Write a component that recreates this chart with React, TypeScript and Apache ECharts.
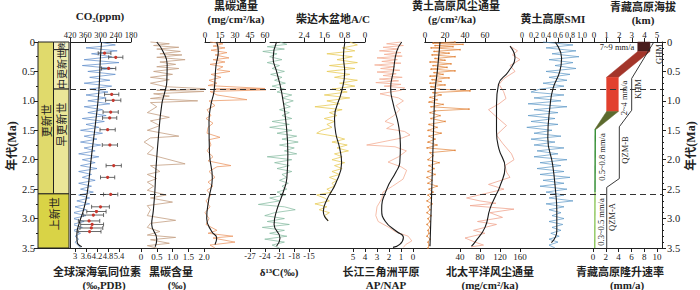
import React, { useEffect, useRef } from 'react';
import * as echarts from 'echarts';

// ---------------- DATA ----------------
// Geological column
const GEO_NAMES = ['更新世', '晚', '中更新世', '早更新世', '上新世'];
const GEO_TOP = [0, 0, 0.13, 0.8, 2.58];
const GEO_BASE = [2.58, 0.13, 0.8, 2.58, 3.5];
const GEO_LABEL_AGE = [1.34, 0.065, 0.46, 1.4, 2.92];
const GEO_X0 = [0, 1, 1, 1, 0];
const GEO_X1 = [1, 2, 2, 2, 2];
const BOUNDARIES = [0.8, 2.58];

// Global deep-sea δ18O (‰, PDB) [value, age Ma]
const D18O: [number, number][] = [
  [4.3, 0], [5.2, 0.05], [3.6, 0.1], [5.3, 0.15], [3.9, 0.2], [5.0, 0.25], [3.5, 0.3], [5.4, 0.35], [3.4, 0.4], [5.1, 0.45],
  [3.7, 0.5], [5.2, 0.55], [3.8, 0.6], [4.9, 0.65], [3.5, 0.7], [5.0, 0.75], [3.8, 0.8], [4.8, 0.85], [3.6, 0.9], [4.7, 0.95],
  [3.7, 1.0], [4.9, 1.05], [3.5, 1.1], [4.5, 1.15], [3.7, 1.2], [4.7, 1.25], [3.4, 1.3], [4.6, 1.35], [3.6, 1.4], [4.3, 1.45],
  [3.3, 1.5], [4.5, 1.55], [3.5, 1.6], [4.2, 1.65], [3.3, 1.7], [4.4, 1.75], [3.5, 1.8], [4.1, 1.85], [3.2, 1.9], [4.3, 1.95],
  [3.4, 2.0], [4.1, 2.05], [3.3, 2.1], [4.2, 2.15], [3.2, 2.2], [3.9, 2.25], [3.4, 2.3], [4.1, 2.35], [3.2, 2.4], [3.9, 2.45],
  [3.3, 2.5], [4.0, 2.55], [3.2, 2.6], [3.8, 2.65], [3.1, 2.7], [3.8, 2.75], [3.0, 2.8], [3.6, 2.85], [2.9, 2.9], [3.6, 2.95],
  [2.9, 3.0], [3.5, 3.05], [2.85, 3.1], [3.4, 3.15], [2.9, 3.2], [3.3, 3.25], [3.0, 3.3], [3.2, 3.35], [3.0, 3.4], [3.15, 3.45], [3.3, 3.5],
];
const D18O_SMOOTH: [number, number][] = [
  [4.45, 0], [4.38, 0.3], [4.3, 0.84], [4.13, 1.35], [3.91, 1.91], [3.67, 2.56], [3.45, 2.87], [3.27, 3.04], [3.1, 3.27], [3.12, 3.4], [3.37, 3.48],
];
// CO2 (ppm) [value, age, error]
const CO2: [number, number, number][] = [
  [284, 0.19, 25], [240, 0.26, 28], [268, 0.45, 28], [256, 0.89, 28], [250, 0.99, 30], [260, 1.19, 30], [264, 1.29, 28],
  [272, 1.49, 30], [263, 1.75, 30], [248, 2.1, 30], [272, 2.3, 28], [260, 2.59, 28], [300, 2.8, 35], [316, 2.88, 38],
  [328, 2.94, 40], [345, 3.04, 42], [333, 3.1, 45], [336, 3.16, 45], [343, 3.22, 45],
];
// Black carbon content (‰)
const BC: [number, number][] = [
  [0.3, 0.0], [0.9, 0.03], [0.4, 0.06], [1.2, 0.09], [0.5, 0.12], [1.25, 0.16], [0.6, 0.2], [1.3, 0.22], [0.5, 0.26], [1.4, 0.3],
  [0.6, 0.34], [1.1, 0.38], [0.5, 0.42], [1.2, 0.45], [0.4, 0.5], [1.0, 0.55], [0.3, 0.6], [0.9, 0.64], [0.3, 0.7], [0.8, 0.76],
  [2.3, 0.8], [0.5, 0.82], [2.0, 0.84], [0.4, 0.88], [0.9, 0.92], [0.3, 0.96], [1.8, 1.0], [0.3, 1.03], [0.5, 1.1], [0.2, 1.2],
  [0.9, 1.28], [0.3, 1.34], [0.6, 1.42], [0.2, 1.5], [1.2, 1.6], [0.3, 1.63], [0.1, 1.7], [0.4, 1.8], [0.2, 1.9], [1.4, 2.07],
  [0.3, 2.1], [0.6, 2.2], [0.2, 2.25], [0.5, 2.32], [0.2, 2.38], [0.4, 2.45], [0.2, 2.52], [0.8, 2.6], [0.3, 2.65], [1.0, 2.72],
  [0.2, 2.78], [0.3, 2.85], [0.2, 2.95], [1.1, 3.03], [0.3, 3.08], [0.2, 3.15], [0.6, 3.22], [0.2, 3.28], [1.1, 3.32], [0.3, 3.36],
  [0.9, 3.42], [0.2, 3.46], [0.5, 3.5],
];
const BC_SMOOTH: [number, number][] = [
  [0.5, 0], [0.7, 0.16], [0.83, 0.38], [0.82, 0.67], [0.76, 0.84], [0.66, 1.06], [0.55, 1.63], [0.47, 2.2], [0.44, 2.54],
  [0.39, 2.87], [0.34, 3.1], [0.5, 3.35], [0.45, 3.48],
];
// Black carbon flux (mg/cm2/ka)
const BCF: [number, number][] = [
  [5, 0], [18, 0.03], [8, 0.07], [20, 0.1], [6, 0.14], [22, 0.18], [10, 0.22], [24, 0.27], [8, 0.3], [20, 0.34], [5, 0.38],
  [18, 0.42], [12, 0.47], [25, 0.5], [6, 0.55], [16, 0.6], [4, 0.65], [12, 0.7], [3, 0.74], [60, 0.79], [10, 0.8], [70, 0.81],
  [5, 0.84], [12, 0.9], [42, 0.98], [4, 1.0], [10, 1.08], [2, 1.15], [6, 1.25], [1, 1.3], [8, 1.38], [3, 1.45], [2, 1.55],
  [15, 1.62], [4, 1.66], [6, 1.75], [2, 1.85], [8, 1.95], [3, 2.02], [26, 2.1], [12, 2.12], [4, 2.2], [10, 2.3], [3, 2.38],
  [8, 2.45], [2, 2.52], [6, 2.6], [1, 2.7], [5, 2.8], [0, 2.9], [4, 3.0], [1, 3.1], [12, 3.2], [3, 3.25], [28, 3.3], [8, 3.33],
  [30, 3.4], [5, 3.45], [10, 3.5],
];
const BCF_SMOOTH: [number, number][] = [
  [11.7, 0], [13.3, 0.16], [11, 0.4], [9, 0.84], [6, 1.06], [4, 1.35], [4.5, 1.9], [7.3, 2.31], [4, 2.65], [1.7, 3.0],
  [6.7, 3.22], [11.7, 3.33], [10, 3.44],
];
// δ13C (‰)
const D13C: [number, number][] = [
  [-21, 0], [-19.5, 0.04], [-23.5, 0.08], [-20, 0.12], [-24.4, 0.16], [-21.5, 0.2], [-23, 0.25], [-20.5, 0.3], [-23.5, 0.35],
  [-21, 0.4], [-22.5, 0.45], [-20, 0.5], [-22.8, 0.55], [-20.5, 0.6], [-22, 0.65], [-19.8, 0.7], [-22.5, 0.75], [-20, 0.8],
  [-21.5, 0.85], [-18.5, 0.9], [-20.5, 0.95], [-18.2, 1.0], [-20.2, 1.05], [-18.8, 1.1], [-21, 1.15], [-19, 1.2], [-20.5, 1.25],
  [-18.5, 1.3], [-22.5, 1.35], [-19, 1.4], [-23, 1.45], [-18.5, 1.5], [-21.5, 1.55], [-17.5, 1.6], [-20.5, 1.65], [-17.2, 1.7],
  [-21, 1.75], [-18, 1.8], [-20, 1.85], [-17.5, 1.9], [-23.5, 1.95], [-18.5, 2.0], [-22, 2.05], [-19, 2.1], [-21.5, 2.15],
  [-18.5, 2.2], [-20.5, 2.25], [-19.5, 2.3], [-21, 2.35], [-19.2, 2.4], [-20.5, 2.45], [-19.5, 2.5], [-21.5, 2.55], [-19.8, 2.6],
  [-23, 2.65], [-21, 2.7], [-25.3, 2.76], [-20, 2.8], [-17.8, 2.85], [-22, 2.9], [-24, 2.95], [-20, 3.0], [-23.5, 3.05], [-19, 3.1],
  [-24.5, 3.15], [-20, 3.2], [-23, 3.25], [-19.5, 3.3], [-24, 3.35], [-20, 3.4], [-22.5, 3.45], [-21, 3.5],
];
const D13C_SMOOTH: [number, number][] = [
  [-21.6, 0], [-22.3, 0.27], [-21.6, 0.5], [-20.6, 0.84], [-19.7, 1.35], [-19.3, 1.91], [-19.5, 2.31], [-20.2, 2.54],
  [-21.6, 2.87], [-22.1, 3.1], [-20.9, 3.33], [-21.6, 3.47],
];
// Qaidam Basin A/C
const AC: [number, number][] = [
  [0.6, 0], [0.3, 0.05], [0.9, 0.1], [0.4, 0.15], [1.5, 0.2], [0.5, 0.25], [1.1, 0.3], [0.3, 0.35], [1.4, 0.4], [0.4, 0.45],
  [1.5, 0.5], [0.6, 0.55], [1.2, 0.6], [0.3, 0.65], [1.0, 0.7], [0.4, 0.75], [1.3, 0.8], [0.7, 0.85], [1.6, 0.9], [0.6, 0.95],
  [1.5, 1.0], [1.0, 1.05], [1.97, 1.1], [0.9, 1.15], [1.4, 1.2], [1.1, 1.25], [1.6, 1.3], [1.2, 1.35], [1.5, 1.4], [1.3, 1.45],
  [1.7, 1.5], [1.9, 1.55], [1.2, 1.6], [0.8, 1.65], [1.3, 1.7], [0.7, 1.75], [1.1, 1.8], [0.65, 1.85], [1.2, 1.9], [0.9, 1.95],
  [1.3, 2.0], [0.8, 2.05], [1.2, 2.1], [0.9, 2.15], [1.3, 2.2], [1.0, 2.25], [1.4, 2.3], [1.1, 2.35], [1.3, 2.4], [1.2, 2.45],
  [1.5, 2.5], [1.3, 2.55], [1.9, 2.6], [1.6, 2.65], [1.4, 2.7], [1.97, 2.75], [1.5, 2.8], [1.8, 2.85], [1.4, 2.9], [1.6, 2.95],
  [1.5, 3.0], [1.45, 3.04],
];
const AC_SMOOTH: [number, number][] = [
  [0.79, 0], [0.85, 0.25], [0.8, 0.5], [0.92, 0.84], [1.2, 1.3], [1.15, 1.55], [1.0, 1.8], [0.92, 2.05], [1.15, 2.4],
  [1.5, 2.68], [1.64, 2.88], [1.45, 3.04],
];
// Yangtze delta plain AP/NAP
const AP: [number, number][] = [
  [1.0, 0], [2.2, 0.03], [0.8, 0.06], [2.5, 0.09], [1.2, 0.12], [2.8, 0.15], [1.0, 0.18], [2.4, 0.21], [0.9, 0.24], [3.0, 0.27],
  [1.3, 0.3], [2.6, 0.33], [1.0, 0.36], [3.2, 0.39], [1.5, 0.42], [2.7, 0.45], [1.1, 0.48], [3.0, 0.51], [1.4, 0.54], [2.5, 0.57],
  [0.9, 0.6], [2.8, 0.63], [1.2, 0.66], [3.1, 0.69], [1.0, 0.72], [2.4, 0.75], [0.7, 0.78], [1.0, 0.82], [2.75, 0.88], [1.2, 0.95],
  [0.8, 1.0], [1.4, 1.08], [1.1, 1.15], [1.6, 1.25], [2.33, 1.35], [1.6, 1.4], [2.2, 1.47], [0.7, 1.52], [0.25, 1.58], [0.9, 1.63],
  [3.86, 1.75], [1.5, 1.78], [0.55, 1.85], [1.2, 1.95], [2.08, 2.04], [1.0, 2.12], [0.53, 2.18], [0.83, 2.33], [1.7, 2.45],
  [2.5, 2.55], [2.6, 2.66], [3.0, 2.8], [3.1, 2.95], [2.9, 3.05], [2.0, 3.15], [1.5, 3.22], [0.4, 3.3], [0.1, 3.38], [0.6, 3.44], [0.8, 3.49],
];
const AP_SMOOTH: [number, number][] = [
  [0.94, 0], [1.36, 0.16], [1.64, 0.5], [1.86, 0.78], [1.64, 1.06], [1.22, 1.4], [1.05, 1.75], [1.1, 2.05], [1.4, 2.2],
  [2.19, 2.5], [2.61, 2.85], [2.3, 3.05], [1.36, 3.22], [0.8, 3.32], [1.1, 3.44], [1.67, 3.49],
];
// Loess Plateau dust flux (g/cm2/ka)
const LOESS: [number, number][] = [
  [30, 0], [8, 0.02], [38, 0.04], [10, 0.06], [28, 0.08], [6, 0.1], [35, 0.13], [9, 0.16], [24, 0.19], [7, 0.22], [30, 0.25],
  [10, 0.28], [20, 0.31], [5, 0.34], [26, 0.37], [8, 0.4], [22, 0.43], [6, 0.46], [30, 0.49], [9, 0.52], [18, 0.55], [5, 0.58],
  [24, 0.61], [7, 0.64], [16, 0.67], [5, 0.7], [20, 0.73], [6, 0.76], [14, 0.8], [45, 0.83], [8, 0.86], [16, 0.9], [5, 0.94],
  [12, 0.98], [4, 1.02], [18, 1.06], [6, 1.1], [44, 1.14], [10, 1.17], [5, 1.2], [15, 1.25], [6, 1.3], [20, 1.35], [4, 1.4],
  [12, 1.45], [3, 1.5], [16, 1.55], [4, 1.6], [10, 1.65], [3, 1.7], [12, 1.75], [2, 1.8], [30, 1.84], [5, 1.88], [8, 1.93],
  [3, 2.0], [14, 2.05], [4, 2.1], [9, 2.15], [3, 2.2], [10, 2.25], [2, 2.3], [7, 2.35], [3, 2.4], [12, 2.45], [4, 2.5], [8, 2.55],
  [3, 2.6], [6, 2.65], [2, 2.7], [7, 2.75], [3, 2.8], [5, 2.85], [2, 2.9], [6, 2.95], [3, 3.0], [5, 3.05], [2, 3.1], [5, 3.15],
  [3, 3.2], [4, 3.25], [2, 3.3], [5, 3.35], [3, 3.4], [4, 3.45], [3, 3.5],
];
const LOESS_SMOOTH: [number, number][] = [[15, 0], [12.3, 0.5], [10, 0.84], [8.3, 1.63], [6.7, 2.54], [5, 3.47]];
// North Pacific dust flux (mg/cm2/ka)
const NP: [number, number][] = [
  [140, 0.07], [155, 0.15], [145, 0.22], [160, 0.3], [140, 0.4], [150, 0.5], [128, 0.62], [118, 0.72], [127, 0.84], [132, 0.96],
  [118, 1.05], [97, 1.15], [110, 1.25], [133, 1.42], [113, 1.58], [125, 1.72], [143, 1.9], [148, 2.0], [130, 2.1], [133, 2.21],
  [140, 2.3], [97, 2.42], [128, 2.5], [53, 2.65], [80, 2.7], [112, 2.74], [60, 2.78], [148, 2.84], [100, 2.9], [125, 2.98],
  [75, 3.05], [113, 3.1], [67, 3.2], [90, 3.25], [50, 3.33], [70, 3.4], [87, 3.45], [62, 3.48],
];
const NP_SMOOTH: [number, number][] = [
  [140, 0.07], [150, 0.27], [137, 0.5], [117, 0.72], [113, 1.06], [113, 1.52], [118, 1.82], [130, 2.13], [120, 2.45],
  [112, 2.6], [100, 2.83], [90, 3.15], [70, 3.4], [63, 3.47],
];
// Loess Plateau SMI
const SMI: [number, number][] = [
  [0.35, 0], [0.85, 0.05], [0.4, 0.1], [0.9, 0.15], [0.5, 0.2], [0.95, 0.25], [0.45, 0.3], [0.85, 0.35], [0.55, 0.4], [0.9, 0.45],
  [0.4, 0.5], [0.8, 0.55], [0.45, 0.6], [0.75, 0.65], [0.35, 0.7], [0.7, 0.75], [0.3, 0.8], [0.15, 0.85], [0.7, 0.9], [0.2, 0.95],
  [0.65, 1.0], [0.1, 1.05], [0.75, 1.1], [0.2, 1.15], [0.6, 1.2], [0.1, 1.25], [0.55, 1.3], [0.15, 1.35], [0.6, 1.4], [0.08, 1.45],
  [0.5, 1.5], [0.2, 1.55], [0.65, 1.6], [0.15, 1.65], [0.55, 1.7], [0.2, 1.75], [0.7, 1.8], [0.25, 1.85], [0.6, 1.9], [0.2, 1.95],
  [0.75, 2.0], [0.3, 2.05], [0.65, 2.1], [0.25, 2.15], [0.7, 2.2], [0.3, 2.25], [0.8, 2.3], [0.35, 2.35], [0.7, 2.4], [0.3, 2.45],
  [0.75, 2.5], [0.4, 2.55], [0.7, 2.6], [0.45, 2.65], [0.85, 2.7], [0.4, 2.75], [0.7, 2.8], [0.45, 2.85], [0.65, 2.9], [0.5, 2.95],
  [0.7, 3.0], [0.45, 3.05], [0.68, 3.1], [0.5, 3.15], [0.65, 3.2], [0.48, 3.25], [0.62, 3.3], [0.45, 3.35], [0.6, 3.4], [0.45, 3.45], [0.55, 3.5],
];
const SMI_SMOOTH: [number, number][] = [
  [0.55, 0], [0.66, 0.27], [0.63, 0.5], [0.52, 0.78], [0.47, 1.06], [0.43, 1.63], [0.51, 2.08], [0.56, 2.54], [0.58, 2.87],
  [0.58, 3.21], [0.49, 3.41],
];
// Tibetan Plateau elevation (km) vs age
const TP_DARK: [number, number][] = [[3.47, 0], [4.44, 0], [4.44, 0.16], [3.47, 0.16]];
const TP_BAND: [number, number][] = [[3.47, 0.16], [4.44, 0.16], [1.93, 0.6], [1.0, 0.6]];
const TP_RED: [number, number][] = [[1.0, 0.6], [1.93, 0.6], [1.93, 1.18], [1.0, 1.18]];
const TP_OLIVE: [number, number][] = [[1.0, 1.18], [1.93, 1.18], [0.2, 1.48], [0.08, 1.48]];
const TP_GREEN: [number, number][] = [[0.1, 1.48], [0.08, 2.55]];
const TP_GREEN_LIGHT: [number, number][] = [[0.08, 2.55], [0.06, 3.5]];
const TP_OUTLINE: [number, number][] = [
  [4.75, 0], [4.58, 0.06], [2.99, 0.62], [2.99, 1.16], [2.01, 1.44], [2.01, 2.32], [1.01, 2.47], [1.01, 3.5],
];

// ---------------- LAYOUT / STYLE ----------------
const TOP = 42;
const PH = 206;
const FONT = "'Liberation Serif','Times New Roman','Noto Sans CJK SC',serif";
const CJK = "'Noto Sans CJK SC','Liberation Serif',serif";
const INK = '#222';

const f1 = (v: number) => (v === 0 ? '0' : v.toFixed(1));
const fTrim = (v: number) => String(+v.toFixed(2));

const TITLES = [
  { text: 'CO₂(ppm)', x: 100, y: 16 },
  { text: '黑碳通量', x: 236, y: 6 },
  { text: '(mg/cm²/ka)', x: 236, y: 19 },
  { text: '柴达木盆地A/C', x: 333, y: 19 },
  { text: '黄土高原风尘通量', x: 456, y: 6 },
  { text: '(g/cm²/ka)', x: 452, y: 19 },
  { text: '黄土高原SMI', x: 553, y: 19 },
  { text: '青藏高原海拔', x: 643, y: 7 },
  { text: '(km)', x: 643, y: 20 },
  { text: '全球深海氧同位素', x: 97, y: 272 },
  { text: '(‰,PDB)', x: 104, y: 285 },
  { text: '黑碳含量', x: 171, y: 272 },
  { text: '(‰)', x: 177, y: 285 },
  { text: 'δ¹³C(‰)', x: 279, y: 272 },
  { text: '长江三角洲平原', x: 381, y: 272 },
  { text: 'AP/NAP', x: 386, y: 285 },
  { text: '北太平洋风尘通量', x: 490, y: 272 },
  { text: '(mg/cm²/ka)', x: 490, y: 285 },
  { text: '青藏高原隆升速率', x: 620, y: 272 },
  { text: '(mm/a)', x: 627, y: 285 },
];
const TP_LABELS = [
  { text: '7~9 mm/a', x: 617, y: 47, rot: 0 },
  { text: '2~4 mm/a', x: 624, y: 98, rot: 1 },
  { text: 'KHM', x: 638, y: 89, rot: 1 },
  { text: 'GHM', x: 659, y: 54, rot: 1 },
  { text: 'QZM-B', x: 625, y: 150, rot: 1 },
  { text: '0.5~0.8 mm/a', x: 602, y: 157, rot: 1 },
  { text: 'QZM-A', x: 612, y: 217, rot: 1 },
  { text: '0.3~0.5 mm/a', x: 601, y: 222, rot: 1 },
];

function buildOption() {
  const grids: any[] = [];
  const xAxes: any[] = [];
  const yAxes: any[] = [];
  const idx: Record<string, number> = {};
  const hiddenY = (i: number) => ({ type: 'value', gridIndex: i, min: 0, max: 3.5, inverse: true, show: false });

  function addAxis(a: any) {
    const i = grids.length;
    idx[a.key] = i;
    grids.push({ left: a.left, top: TOP, width: a.width, height: PH, containLabel: false });
    const labels = a.mode === 'labels';
    xAxes.push({
      type: 'value', gridIndex: i, position: a.pos || 'bottom',
      min: a.min ?? 0, max: a.max ?? 1, interval: a.interval, inverse: !!a.inverse,
      show: a.mode !== 'none',
      axisLine: { show: true, onZero: false, lineStyle: { color: INK, width: 1 } },
      axisTick: { show: labels, inside: false, length: 4, lineStyle: { color: INK, width: 1 } },
      axisLabel: {
        show: labels, margin: a.pos === 'top' ? 3 : 4, fontSize: a.fs || 9, color: INK, fontFamily: FONT,
        formatter: a.fmt || fTrim, showMinLabel: true, showMaxLabel: true, hideOverlap: false,
      },
      splitLine: { show: false },
    });
    yAxes.push(a.y ? { ...a.y, gridIndex: i } : hiddenY(i));
  }

  const yTickAxis = (position: string, minorSplit: number) => ({
    type: 'value', min: 0, max: 3.5, interval: 0.5, inverse: true, position,
    axisLine: { show: true, onZero: false, lineStyle: { color: INK, width: 1 } },
    axisTick: { show: true, length: 4, lineStyle: { color: INK } },
    minorTick: { show: true, splitNumber: minorSplit, length: 2, lineStyle: { color: INK } },
    axisLabel: { fontSize: 10.5, color: INK, fontFamily: FONT, margin: position === 'left' ? 3 : 5, formatter: f1, showMinLabel: true, showMaxLabel: true },
    splitLine: { show: false },
    minorSplitLine: { show: false },
  });

  addAxis({ key: 'base', left: 38, width: 624, mode: 'line', pos: 'bottom', y: yTickAxis('left', 2) });
  addAxis({ key: 'right', left: 38, width: 624, mode: 'none', y: yTickAxis('right', 5) });
  addAxis({
    key: 'line70', left: 70, width: 592, mode: 'none',
    y: { type: 'value', min: 0, max: 3.5, inverse: true, axisLine: { show: true, onZero: false, lineStyle: { color: INK } }, axisTick: { show: false }, axisLabel: { show: false }, splitLine: { show: false } },
  });
  addAxis({ key: 'col', left: 38, width: 31, mode: 'none', min: 0, max: 2 });
  addAxis({ key: 'co2', left: 70, width: 61, pos: 'top', min: 180, max: 420, interval: 60, inverse: true, mode: 'labels', fs: 8.5 });
  addAxis({ key: 'd18o', left: 75, width: 44, pos: 'bottom', min: 3, max: 5.4, interval: 0.6, mode: 'labels', fs: 8.5 });
  addAxis({ key: 'bc', left: 141, width: 63, pos: 'bottom', min: 0, max: 2, interval: 0.5, mode: 'labels', fmt: f1 });
  addAxis({ key: 'bcf', left: 205, width: 60, pos: 'top', min: 0, max: 60, interval: 15, mode: 'labels' });
  addAxis({ key: 'd13c', left: 250, width: 59, pos: 'bottom', min: -27, max: -15, interval: 3, mode: 'labels', fs: 8.5 });
  addAxis({ key: 'acExt', left: 270, width: 34, pos: 'top', mode: 'line' });
  addAxis({ key: 'ac', left: 304, width: 61, pos: 'top', min: 0, max: 2.4, interval: 0.8, inverse: true, mode: 'labels', fmt: f1 });
  addAxis({ key: 'ap', left: 353, width: 60, pos: 'bottom', min: 0, max: 5, interval: 1, inverse: true, mode: 'labels' });
  addAxis({ key: 'topR', left: 425, width: 237, pos: 'top', mode: 'line' });
  addAxis({ key: 'loess', left: 425, width: 60, pos: 'top', min: 0, max: 60, interval: 20, mode: 'labels' });
  addAxis({ key: 'np', left: 460, width: 60, pos: 'bottom', min: 40, max: 160, interval: 40, mode: 'labels' });
  addAxis({ key: 'smi', left: 522, width: 60, pos: 'top', min: 0, max: 1, interval: 0.2, mode: 'labels', fmt: f1, fs: 8 });
  addAxis({ key: 'elev', left: 594, width: 63, pos: 'top', min: 0, max: 5, interval: 1, mode: 'labels' });
  addAxis({ key: 'rate', left: 593, width: 64, pos: 'bottom', min: 0, max: 10, interval: 2, mode: 'labels' });

  const line = (key: string, data: any[], color: string, width: number, extra: any = {}) => ({
    type: 'line', xAxisIndex: idx[key], yAxisIndex: idx[key], data, symbol: 'none', showSymbol: false,
    clip: false, silent: true, lineStyle: { color, width }, z: 3, ...extra,
  });
  const smooth = (key: string, data: any[]) => line(key, data, '#1a1a1a', 1.1, { smooth: 0.5, z: 5 });
  const poly = (pts: [number, number][], fill: string) => ({
    type: 'custom', xAxisIndex: idx.elev, yAxisIndex: idx.elev, data: [pts[0]], encode: { x: 0, y: 1 }, silent: true, clip: false, z: 3,
    renderItem: (_p: any, api: any) => ({ type: 'polygon', shape: { points: pts.map((p) => api.coord(p)) }, style: { fill, stroke: fill, lineWidth: 0.5 } }),
  });

  const GEO_COLORS = ['#e0da6c', '#f6f2c6', '#f1edb0', '#ebe698', '#d9d346'];
  const GEO_FONT = [11, 7, 10, 11, 11];
  const geoData = GEO_NAMES.map((n, i) => [GEO_X0[i], GEO_TOP[i], GEO_X1[i], GEO_BASE[i], GEO_LABEL_AGE[i]]);

  const series: any[] = [
    {
      type: 'custom', xAxisIndex: idx.col, yAxisIndex: idx.col, data: geoData, encode: { x: 0, y: 1 }, silent: true, clip: false, z: 2,
      renderItem: (params: any, api: any) => {
        const i = params.dataIndex;
        const p0 = api.coord([api.value(0), api.value(1)]);
        const p1 = api.coord([api.value(2), api.value(3)]);
        const lab = api.coord([(api.value(0) + api.value(2)) / 2, api.value(4)]);
        return {
          type: 'group', children: [
            { type: 'rect', shape: { x: p0[0], y: p0[1], width: p1[0] - p0[0], height: p1[1] - p0[1] }, style: { fill: GEO_COLORS[i], stroke: INK, lineWidth: 1 } },
            { type: 'text', x: lab[0], y: lab[1], rotation: Math.PI / 2, style: { text: GEO_NAMES[i], fontSize: GEO_FONT[i], fontFamily: CJK, fill: INK, align: 'center', verticalAlign: 'middle' } },
          ],
        };
      },
    },
    // boundary dashed lines
    {
      type: 'line', xAxisIndex: idx.line70, yAxisIndex: idx.line70, data: [[0, 0]], symbol: 'none', showSymbol: false, silent: true,
      lineStyle: { opacity: 0 },
      markLine: { symbol: 'none', silent: true, label: { show: false }, lineStyle: { type: [6, 4], color: '#333', width: 1.2 }, data: BOUNDARIES.map((b) => ({ yAxis: b })) },
    },
    line('d18o', D18O, '#5a8ac8', 0.7),
    line('bc', BC, '#c4a083', 0.8),
    line('bcf', BCF, '#ec9a68', 0.8),
    line('d13c', D13C, '#7fb89c', 0.7),
    line('ac', AC, '#e8cc58', 0.8),
    line('ap', AP, '#f4ae95', 0.8),
    line('loess', LOESS, '#e2843a', 0.7, { symbol: 'circle', showSymbol: true, symbolSize: 1.5, itemStyle: { color: '#e2843a' } }),
    line('np', NP, '#f0a690', 0.8),
    line('smi', SMI, '#5a96c6', 0.7),
    smooth('d18o', D18O_SMOOTH),
    smooth('bc', BC_SMOOTH),
    smooth('bcf', BCF_SMOOTH),
    smooth('d13c', D13C_SMOOTH),
    smooth('ac', AC_SMOOTH),
    smooth('ap', AP_SMOOTH),
    smooth('loess', LOESS_SMOOTH),
    smooth('np', NP_SMOOTH),
    smooth('smi', SMI_SMOOTH),
    {
      type: 'custom', xAxisIndex: idx.co2, yAxisIndex: idx.co2, data: CO2, encode: { x: 0, y: 1 }, silent: true, clip: false, z: 6,
      renderItem: (_p: any, api: any) => {
        const v = api.value(0), a = api.value(1), e = api.value(2);
        const c = api.coord([v, a]);
        const l = api.coord([v - e, a]);
        const r = api.coord([v + e, a]);
        const st = { stroke: '#444', lineWidth: 0.8 };
        return {
          type: 'group', children: [
            { type: 'line', shape: { x1: l[0], y1: l[1], x2: r[0], y2: r[1] }, style: st },
            { type: 'line', shape: { x1: l[0], y1: l[1] - 2, x2: l[0], y2: l[1] + 2 }, style: st },
            { type: 'line', shape: { x1: r[0], y1: r[1] - 2, x2: r[0], y2: r[1] + 2 }, style: st },
            { type: 'circle', shape: { cx: c[0], cy: c[1], r: 1.6 }, style: { fill: '#c8372d' } },
          ],
        };
      },
    },
    poly(TP_DARK, '#4a1d1d'),
    poly(TP_BAND, '#a3352a'),
    poly(TP_RED, '#e2402e'),
    poly(TP_OLIVE, '#5c6a2e'),
    line('elev', TP_GREEN, '#2e8b2e', 1.4),
    line('elev', TP_GREEN_LIGHT, '#8cc65a', 1.4),
    line('elev', TP_OUTLINE, '#222', 0.9),
  ];

  const graphic: any[] = [
    ...TITLES.map((t) => ({
      type: 'text', x: t.x, y: t.y, silent: true,
      style: { text: t.text, fontSize: 11, fontWeight: 'bold', fontFamily: FONT, fill: INK, align: 'center', verticalAlign: 'middle' },
    })),
    ...TP_LABELS.map((t) => ({
      type: 'text', x: t.x, y: t.y, rotation: t.rot ? Math.PI / 2 : 0, silent: true,
      style: { text: t.text, fontSize: 8.5, fontFamily: FONT, fill: INK, align: 'center', verticalAlign: 'middle' },
    })),
    { type: 'text', x: 12, y: 146, rotation: Math.PI / 2, silent: true, style: { text: '年代(Ma)', fontSize: 12, fontWeight: 'bold', fontFamily: FONT, fill: INK, align: 'center', verticalAlign: 'middle' } },
    { type: 'text', x: 691, y: 146, rotation: Math.PI / 2, silent: true, style: { text: '年代(Ma)', fontSize: 12, fontWeight: 'bold', fontFamily: FONT, fill: INK, align: 'center', verticalAlign: 'middle' } },
  ];

  return {
    animation: false,
    backgroundColor: '#ffffff',
    grid: grids,
    xAxis: xAxes,
    yAxis: yAxes,
    series,
    graphic,
  };
}

export default function App() {
  const ref = useRef<HTMLDivElement>(null);
  useEffect(() => {
    if (!ref.current) return;
    const chart = echarts.init(ref.current, null, { renderer: 'svg' });
    chart.setOption(buildOption() as any);
    return () => chart.dispose();
  }, []);
  return (
    <div
      ref={ref}
      style={{ position: 'fixed', left: 0, top: 0, width: 700, height: 290, background: '#fff' }}
    />
  );
}
